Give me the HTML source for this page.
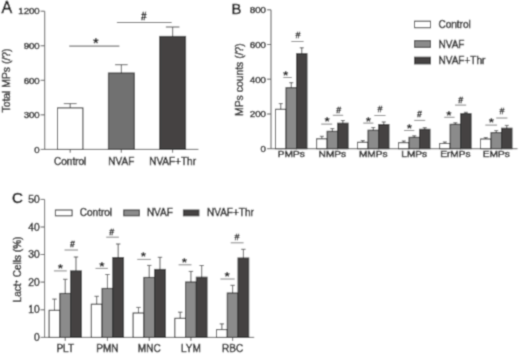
<!DOCTYPE html>
<html><head><meta charset="utf-8"><style>
html,body{margin:0;padding:0;background:#fff;width:520px;height:354px;overflow:hidden}
svg{display:block;font-family:"Liberation Sans", sans-serif}
</style></head><body>
<svg width="520" height="354" viewBox="0 0 520 354">
<defs><filter id="bl" x="0" y="0" width="520" height="354" filterUnits="userSpaceOnUse"><feConvolveMatrix order="3" kernelMatrix="0.03607 0.11778 0.03607 0.11778 0.38462 0.11778 0.03607 0.11778 0.03607" edgeMode="duplicate" preserveAlpha="true"/></filter></defs>
<g filter="url(#bl)">
<rect width="520" height="354" fill="#fff"/>
<line x1="44.7" y1="11.2" x2="44.7" y2="149.4" stroke="#555" stroke-width="1"/>
<line x1="40.7" y1="11.2" x2="44.7" y2="11.2" stroke="#555" stroke-width="1"/>
<text x="0" y="0" font-size="9.6" text-anchor="end" font-weight="normal" fill="#2b2b2b" transform="translate(39.70,14.40) scale(1.0,1)" stroke="#2b2b2b" stroke-width="0.45">1200</text>
<line x1="40.7" y1="45.75" x2="44.7" y2="45.75" stroke="#555" stroke-width="1"/>
<text x="0" y="0" font-size="9.6" text-anchor="end" font-weight="normal" fill="#2b2b2b" transform="translate(39.70,48.95) scale(1.0,1)" stroke="#2b2b2b" stroke-width="0.45">900</text>
<line x1="40.7" y1="80.3" x2="44.7" y2="80.3" stroke="#555" stroke-width="1"/>
<text x="0" y="0" font-size="9.6" text-anchor="end" font-weight="normal" fill="#2b2b2b" transform="translate(39.70,83.50) scale(1.0,1)" stroke="#2b2b2b" stroke-width="0.45">600</text>
<line x1="40.7" y1="114.85" x2="44.7" y2="114.85" stroke="#555" stroke-width="1"/>
<text x="0" y="0" font-size="9.6" text-anchor="end" font-weight="normal" fill="#2b2b2b" transform="translate(39.70,118.05) scale(1.0,1)" stroke="#2b2b2b" stroke-width="0.45">300</text>
<line x1="40.7" y1="149.4" x2="44.7" y2="149.4" stroke="#555" stroke-width="1"/>
<text x="0" y="0" font-size="9.6" text-anchor="end" font-weight="normal" fill="#2b2b2b" transform="translate(39.70,152.60) scale(1.0,1)" stroke="#2b2b2b" stroke-width="0.45">0</text>
<line x1="44.7" y1="149.4" x2="198.4" y2="149.4" stroke="#555" stroke-width="1"/>
<line x1="70.2" y1="149.4" x2="70.2" y2="152.70000000000002" stroke="#555" stroke-width="1"/>
<line x1="121.3" y1="149.4" x2="121.3" y2="152.70000000000002" stroke="#555" stroke-width="1"/>
<line x1="172.6" y1="149.4" x2="172.6" y2="152.70000000000002" stroke="#555" stroke-width="1"/>
<line x1="70.2" y1="107.9" x2="70.2" y2="103.6" stroke="#555" stroke-width="1"/>
<line x1="63.800000000000004" y1="103.6" x2="76.60000000000001" y2="103.6" stroke="#555" stroke-width="1"/>
<rect x="57.5" y="107.9" width="25.400000000000006" height="41.5" fill="#ffffff" stroke="#2a2a2a" stroke-width="1"/>
<line x1="121.35000000000001" y1="73" x2="121.35000000000001" y2="64.7" stroke="#555" stroke-width="1"/>
<line x1="115.05000000000001" y1="64.7" x2="127.65" y2="64.7" stroke="#555" stroke-width="1"/>
<rect x="108.4" y="73" width="25.900000000000006" height="76.4" fill="#717171" stroke="#2a2a2a" stroke-width="1"/>
<line x1="172.64999999999998" y1="36.4" x2="172.64999999999998" y2="27" stroke="#555" stroke-width="1"/>
<line x1="165.84999999999997" y1="27" x2="179.45" y2="27" stroke="#555" stroke-width="1"/>
<rect x="159.7" y="36.4" width="25.900000000000006" height="113.0" fill="#444343" stroke="#2a2a2a" stroke-width="1"/>
<line x1="69.2" y1="46.1" x2="119.4" y2="46.1" stroke="#555" stroke-width="1"/>
<text x="95.8" y="47.95" font-size="14.5" text-anchor="middle" font-weight="bold" fill="#1a1a1a" >*</text>
<line x1="116.9" y1="22.5" x2="171.6" y2="22.5" stroke="#555" stroke-width="1"/>
<text x="143.7" y="19.8" font-size="10" text-anchor="middle" font-weight="bold" fill="#222" stroke="#222" stroke-width="0.35">#</text>
<text x="70.2" y="164.6" font-size="10" text-anchor="middle" font-weight="normal" fill="#2b2b2b"  stroke="#2b2b2b" stroke-width="0.45">Control</text>
<text x="121.3" y="164.6" font-size="10" text-anchor="middle" font-weight="normal" fill="#2b2b2b"  stroke="#2b2b2b" stroke-width="0.45">NVAF</text>
<text x="172.6" y="164.6" font-size="10" text-anchor="middle" font-weight="normal" fill="#2b2b2b"  stroke="#2b2b2b" stroke-width="0.45">NVAF+Thr</text>
<text x="0" y="0" font-size="10.4" text-anchor="middle" font-weight="normal" fill="#2b2b2b" transform="translate(10.4,80.5) rotate(-90)" stroke="#2b2b2b" stroke-width="0.45">Total MPs (/?)</text>
<text x="1.4" y="12.8" font-size="16" text-anchor="start" font-weight="normal" fill="#111" stroke="#111" stroke-width="0.5">A</text>
<line x1="271" y1="9.8" x2="271" y2="148.7" stroke="#555" stroke-width="1"/>
<line x1="267" y1="9.8" x2="271" y2="9.8" stroke="#555" stroke-width="1"/>
<text x="0" y="0" font-size="9.5" text-anchor="end" font-weight="normal" fill="#2b2b2b" transform="translate(266.00,13.10) scale(1.03,1)" stroke="#2b2b2b" stroke-width="0.45">800</text>
<line x1="267" y1="44.5" x2="271" y2="44.5" stroke="#555" stroke-width="1"/>
<text x="0" y="0" font-size="9.5" text-anchor="end" font-weight="normal" fill="#2b2b2b" transform="translate(266.00,47.80) scale(1.03,1)" stroke="#2b2b2b" stroke-width="0.45">600</text>
<line x1="267" y1="79.2" x2="271" y2="79.2" stroke="#555" stroke-width="1"/>
<text x="0" y="0" font-size="9.5" text-anchor="end" font-weight="normal" fill="#2b2b2b" transform="translate(266.00,82.50) scale(1.03,1)" stroke="#2b2b2b" stroke-width="0.45">400</text>
<line x1="267" y1="114" x2="271" y2="114" stroke="#555" stroke-width="1"/>
<text x="0" y="0" font-size="9.5" text-anchor="end" font-weight="normal" fill="#2b2b2b" transform="translate(266.00,117.30) scale(1.03,1)" stroke="#2b2b2b" stroke-width="0.45">200</text>
<line x1="267" y1="148.7" x2="271" y2="148.7" stroke="#555" stroke-width="1"/>
<text x="0" y="0" font-size="9.5" text-anchor="end" font-weight="normal" fill="#2b2b2b" transform="translate(266.00,152.00) scale(1.03,1)" stroke="#2b2b2b" stroke-width="0.45">0</text>
<line x1="271" y1="148.7" x2="517.5" y2="148.7" stroke="#555" stroke-width="1"/>
<line x1="280.75" y1="109.3" x2="280.75" y2="103.6" stroke="#555" stroke-width="1"/>
<line x1="278.75" y1="103.6" x2="282.75" y2="103.6" stroke="#555" stroke-width="1"/>
<rect x="275.5" y="109.3" width="10.5" height="39.39999999999999" fill="#ffffff" stroke="#2a2a2a" stroke-width="1"/>
<line x1="291.25" y1="87.7" x2="291.25" y2="82.7" stroke="#555" stroke-width="1"/>
<line x1="289.25" y1="82.7" x2="293.25" y2="82.7" stroke="#555" stroke-width="1"/>
<rect x="286.0" y="87.7" width="10.5" height="60.999999999999986" fill="#8b8b8b" stroke="#2a2a2a" stroke-width="1"/>
<line x1="301.75" y1="53.7" x2="301.75" y2="47.8" stroke="#555" stroke-width="1"/>
<line x1="299.75" y1="47.8" x2="303.75" y2="47.8" stroke="#555" stroke-width="1"/>
<rect x="296.5" y="53.7" width="10.5" height="94.99999999999999" fill="#444343" stroke="#2a2a2a" stroke-width="1"/>
<line x1="321.85" y1="138.8" x2="321.85" y2="136.3" stroke="#555" stroke-width="1"/>
<line x1="319.85" y1="136.3" x2="323.85" y2="136.3" stroke="#555" stroke-width="1"/>
<rect x="316.6" y="138.8" width="10.5" height="9.899999999999977" fill="#ffffff" stroke="#2a2a2a" stroke-width="1"/>
<line x1="332.35" y1="131.3" x2="332.35" y2="128.6" stroke="#555" stroke-width="1"/>
<line x1="330.35" y1="128.6" x2="334.35" y2="128.6" stroke="#555" stroke-width="1"/>
<rect x="327.1" y="131.3" width="10.5" height="17.399999999999977" fill="#8b8b8b" stroke="#2a2a2a" stroke-width="1"/>
<line x1="342.85" y1="123.2" x2="342.85" y2="120.5" stroke="#555" stroke-width="1"/>
<line x1="340.85" y1="120.5" x2="344.85" y2="120.5" stroke="#555" stroke-width="1"/>
<rect x="337.6" y="123.2" width="10.5" height="25.499999999999986" fill="#444343" stroke="#2a2a2a" stroke-width="1"/>
<line x1="362.75" y1="142.3" x2="362.75" y2="140.6" stroke="#555" stroke-width="1"/>
<line x1="360.75" y1="140.6" x2="364.75" y2="140.6" stroke="#555" stroke-width="1"/>
<rect x="357.5" y="142.3" width="10.5" height="6.399999999999977" fill="#ffffff" stroke="#2a2a2a" stroke-width="1"/>
<line x1="373.25" y1="130.2" x2="373.25" y2="127.5" stroke="#555" stroke-width="1"/>
<line x1="371.25" y1="127.5" x2="375.25" y2="127.5" stroke="#555" stroke-width="1"/>
<rect x="368.0" y="130.2" width="10.5" height="18.5" fill="#8b8b8b" stroke="#2a2a2a" stroke-width="1"/>
<line x1="383.75" y1="124.5" x2="383.75" y2="122.0" stroke="#555" stroke-width="1"/>
<line x1="381.75" y1="122.0" x2="385.75" y2="122.0" stroke="#555" stroke-width="1"/>
<rect x="378.5" y="124.5" width="10.5" height="24.19999999999999" fill="#444343" stroke="#2a2a2a" stroke-width="1"/>
<line x1="403.75" y1="142.7" x2="403.75" y2="141.0" stroke="#555" stroke-width="1"/>
<line x1="401.75" y1="141.0" x2="405.75" y2="141.0" stroke="#555" stroke-width="1"/>
<rect x="398.5" y="142.7" width="10.5" height="6.0" fill="#ffffff" stroke="#2a2a2a" stroke-width="1"/>
<line x1="414.25" y1="137.3" x2="414.25" y2="135.8" stroke="#555" stroke-width="1"/>
<line x1="412.25" y1="135.8" x2="416.25" y2="135.8" stroke="#555" stroke-width="1"/>
<rect x="409.0" y="137.3" width="10.5" height="11.399999999999977" fill="#8b8b8b" stroke="#2a2a2a" stroke-width="1"/>
<line x1="424.75" y1="129.3" x2="424.75" y2="127.7" stroke="#555" stroke-width="1"/>
<line x1="422.75" y1="127.7" x2="426.75" y2="127.7" stroke="#555" stroke-width="1"/>
<rect x="419.5" y="129.3" width="10.5" height="19.399999999999977" fill="#444343" stroke="#2a2a2a" stroke-width="1"/>
<line x1="444.85" y1="143.5" x2="444.85" y2="142.0" stroke="#555" stroke-width="1"/>
<line x1="442.85" y1="142.0" x2="446.85" y2="142.0" stroke="#555" stroke-width="1"/>
<rect x="439.6" y="143.5" width="10.5" height="5.199999999999989" fill="#ffffff" stroke="#2a2a2a" stroke-width="1"/>
<line x1="455.35" y1="124.3" x2="455.35" y2="122.8" stroke="#555" stroke-width="1"/>
<line x1="453.35" y1="122.8" x2="457.35" y2="122.8" stroke="#555" stroke-width="1"/>
<rect x="450.1" y="124.3" width="10.5" height="24.39999999999999" fill="#8b8b8b" stroke="#2a2a2a" stroke-width="1"/>
<line x1="465.85" y1="113.7" x2="465.85" y2="112.3" stroke="#555" stroke-width="1"/>
<line x1="463.85" y1="112.3" x2="467.85" y2="112.3" stroke="#555" stroke-width="1"/>
<rect x="460.6" y="113.7" width="10.5" height="34.999999999999986" fill="#444343" stroke="#2a2a2a" stroke-width="1"/>
<line x1="485.75" y1="139.0" x2="485.75" y2="137.6" stroke="#555" stroke-width="1"/>
<line x1="483.75" y1="137.6" x2="487.75" y2="137.6" stroke="#555" stroke-width="1"/>
<rect x="480.5" y="139.0" width="10.5" height="9.699999999999989" fill="#ffffff" stroke="#2a2a2a" stroke-width="1"/>
<line x1="496.25" y1="132.6" x2="496.25" y2="130.6" stroke="#555" stroke-width="1"/>
<line x1="494.25" y1="130.6" x2="498.25" y2="130.6" stroke="#555" stroke-width="1"/>
<rect x="491.0" y="132.6" width="10.5" height="16.099999999999994" fill="#8b8b8b" stroke="#2a2a2a" stroke-width="1"/>
<line x1="506.75" y1="128.2" x2="506.75" y2="125.4" stroke="#555" stroke-width="1"/>
<line x1="504.75" y1="125.4" x2="508.75" y2="125.4" stroke="#555" stroke-width="1"/>
<rect x="501.5" y="128.2" width="10.5" height="20.5" fill="#444343" stroke="#2a2a2a" stroke-width="1"/>
<line x1="283.3" y1="77.5" x2="291.8" y2="77.5" stroke="#808080" stroke-width="1"/>
<text x="285.7" y="79.95" font-size="13.5" text-anchor="middle" font-weight="bold" fill="#1a1a1a" >*</text>
<line x1="291.3" y1="41.5" x2="303.6" y2="41.5" stroke="#808080" stroke-width="1"/>
<text x="298" y="38.0" font-size="9" text-anchor="middle" font-weight="bold" fill="#222" stroke="#222" stroke-width="0.35">#</text>
<line x1="321.2" y1="124.1" x2="332.2" y2="124.1" stroke="#808080" stroke-width="1"/>
<text x="327.2" y="126.05" font-size="13.5" text-anchor="middle" font-weight="bold" fill="#1a1a1a" >*</text>
<line x1="332.8" y1="115.3" x2="343.2" y2="115.3" stroke="#808080" stroke-width="1"/>
<text x="338.8" y="113.0" font-size="9" text-anchor="middle" font-weight="bold" fill="#222" stroke="#222" stroke-width="0.35">#</text>
<line x1="363.2" y1="123.1" x2="373.4" y2="123.1" stroke="#808080" stroke-width="1"/>
<text x="368.4" y="125.65" font-size="13.5" text-anchor="middle" font-weight="bold" fill="#1a1a1a" >*</text>
<line x1="374.3" y1="115.5" x2="385.5" y2="115.5" stroke="#808080" stroke-width="1"/>
<text x="380" y="112.4" font-size="9" text-anchor="middle" font-weight="bold" fill="#222" stroke="#222" stroke-width="0.35">#</text>
<line x1="404" y1="130.5" x2="414.3" y2="130.5" stroke="#808080" stroke-width="1"/>
<text x="409.4" y="132.75" font-size="13.5" text-anchor="middle" font-weight="bold" fill="#1a1a1a" >*</text>
<line x1="414.2" y1="120.4" x2="425.2" y2="120.4" stroke="#808080" stroke-width="1"/>
<text x="419.6" y="117.2" font-size="9" text-anchor="middle" font-weight="bold" fill="#222" stroke="#222" stroke-width="0.35">#</text>
<line x1="444.2" y1="117.3" x2="454.6" y2="117.3" stroke="#808080" stroke-width="1"/>
<text x="449" y="119.75" font-size="13.5" text-anchor="middle" font-weight="bold" fill="#1a1a1a" >*</text>
<line x1="455" y1="105.1" x2="466.2" y2="105.1" stroke="#808080" stroke-width="1"/>
<text x="460.8" y="103.0" font-size="9" text-anchor="middle" font-weight="bold" fill="#222" stroke="#222" stroke-width="0.35">#</text>
<line x1="485.3" y1="125.1" x2="497.1" y2="125.1" stroke="#808080" stroke-width="1"/>
<text x="491.3" y="127.35" font-size="13.5" text-anchor="middle" font-weight="bold" fill="#1a1a1a" >*</text>
<line x1="496.2" y1="118" x2="507.4" y2="118" stroke="#808080" stroke-width="1"/>
<text x="502" y="114.4" font-size="9" text-anchor="middle" font-weight="bold" fill="#222" stroke="#222" stroke-width="0.35">#</text>
<text x="0" y="0" font-size="9.2" text-anchor="middle" font-weight="normal" fill="#2b2b2b" transform="translate(291.25,157.4) scale(1.1,1)" stroke="#2b2b2b" stroke-width="0.45">PMPs</text>
<text x="0" y="0" font-size="9.2" text-anchor="middle" font-weight="normal" fill="#2b2b2b" transform="translate(332.35,157.4) scale(1.1,1)" stroke="#2b2b2b" stroke-width="0.45">NMPs</text>
<text x="0" y="0" font-size="9.2" text-anchor="middle" font-weight="normal" fill="#2b2b2b" transform="translate(373.25,157.4) scale(1.1,1)" stroke="#2b2b2b" stroke-width="0.45">MMPs</text>
<text x="0" y="0" font-size="9.2" text-anchor="middle" font-weight="normal" fill="#2b2b2b" transform="translate(414.25,157.4) scale(1.1,1)" stroke="#2b2b2b" stroke-width="0.45">LMPs</text>
<text x="0" y="0" font-size="9.2" text-anchor="middle" font-weight="normal" fill="#2b2b2b" transform="translate(455.35,157.4) scale(1.1,1)" stroke="#2b2b2b" stroke-width="0.45">ErMPs</text>
<text x="0" y="0" font-size="9.2" text-anchor="middle" font-weight="normal" fill="#2b2b2b" transform="translate(496.25,157.4) scale(1.1,1)" stroke="#2b2b2b" stroke-width="0.45">EMPs</text>
<text x="0" y="0" font-size="10.4" text-anchor="middle" font-weight="normal" fill="#2b2b2b" transform="translate(242.6,79.6) rotate(-90)" stroke="#2b2b2b" stroke-width="0.45">MPs counts (/?)</text>
<text x="231.5" y="13.6" font-size="14.8" text-anchor="start" font-weight="normal" fill="#111" stroke="#111" stroke-width="0.45">B</text>
<rect x="414.5" y="21.2" width="16" height="6.5" fill="#ffffff" stroke="#2a2a2a" stroke-width="1"/>
<text x="438.5" y="27.95" font-size="10" text-anchor="start" font-weight="normal" fill="#2b2b2b"  stroke="#2b2b2b" stroke-width="0.45">Control</text>
<rect x="414.5" y="40.6" width="16" height="6.799999999999997" fill="#8b8b8b" stroke="#2a2a2a" stroke-width="1"/>
<text x="438.5" y="47.5" font-size="10" text-anchor="start" font-weight="normal" fill="#2b2b2b"  stroke="#2b2b2b" stroke-width="0.45">NVAF</text>
<rect x="414.5" y="57.2" width="16" height="6.699999999999996" fill="#444343" stroke="#2a2a2a" stroke-width="1"/>
<text x="438.5" y="64.05" font-size="10" text-anchor="start" font-weight="normal" fill="#2b2b2b"  stroke="#2b2b2b" stroke-width="0.45">NVAF+Thr</text>
<line x1="44.6" y1="199.4" x2="44.6" y2="337.4" stroke="#555" stroke-width="1"/>
<line x1="40.6" y1="199.4" x2="44.6" y2="199.4" stroke="#555" stroke-width="1"/>
<text x="0" y="0" font-size="10.2" text-anchor="end" font-weight="normal" fill="#2b2b2b" transform="translate(39.60,203.00) scale(1.0,1)" stroke="#2b2b2b" stroke-width="0.45">50</text>
<line x1="40.6" y1="227" x2="44.6" y2="227" stroke="#555" stroke-width="1"/>
<text x="0" y="0" font-size="10.2" text-anchor="end" font-weight="normal" fill="#2b2b2b" transform="translate(39.60,230.60) scale(1.0,1)" stroke="#2b2b2b" stroke-width="0.45">40</text>
<line x1="40.6" y1="254.5" x2="44.6" y2="254.5" stroke="#555" stroke-width="1"/>
<text x="0" y="0" font-size="10.2" text-anchor="end" font-weight="normal" fill="#2b2b2b" transform="translate(39.60,258.10) scale(1.0,1)" stroke="#2b2b2b" stroke-width="0.45">30</text>
<line x1="40.6" y1="282.1" x2="44.6" y2="282.1" stroke="#555" stroke-width="1"/>
<text x="0" y="0" font-size="10.2" text-anchor="end" font-weight="normal" fill="#2b2b2b" transform="translate(39.60,285.70) scale(1.0,1)" stroke="#2b2b2b" stroke-width="0.45">20</text>
<line x1="40.6" y1="309.8" x2="44.6" y2="309.8" stroke="#555" stroke-width="1"/>
<text x="0" y="0" font-size="10.2" text-anchor="end" font-weight="normal" fill="#2b2b2b" transform="translate(39.60,313.40) scale(1.0,1)" stroke="#2b2b2b" stroke-width="0.45">10</text>
<line x1="40.6" y1="337.4" x2="44.6" y2="337.4" stroke="#555" stroke-width="1"/>
<text x="0" y="0" font-size="10.2" text-anchor="end" font-weight="normal" fill="#2b2b2b" transform="translate(39.60,341.00) scale(1.0,1)" stroke="#2b2b2b" stroke-width="0.45">0</text>
<line x1="44.6" y1="337.4" x2="254.2" y2="337.4" stroke="#555" stroke-width="1"/>
<line x1="54.475" y1="310.3" x2="54.475" y2="299.1" stroke="#555" stroke-width="1"/>
<line x1="52.275" y1="299.1" x2="56.675000000000004" y2="299.1" stroke="#555" stroke-width="1"/>
<rect x="49.1" y="310.3" width="10.75" height="27.099999999999966" fill="#ffffff" stroke="#2a2a2a" stroke-width="1"/>
<line x1="65.225" y1="293.4" x2="65.225" y2="279.3" stroke="#555" stroke-width="1"/>
<line x1="63.02499999999999" y1="279.3" x2="67.425" y2="279.3" stroke="#555" stroke-width="1"/>
<rect x="59.85" y="293.4" width="10.749999999999993" height="44.0" fill="#8b8b8b" stroke="#2a2a2a" stroke-width="1"/>
<line x1="75.975" y1="270.9" x2="75.975" y2="257.0" stroke="#555" stroke-width="1"/>
<line x1="73.77499999999999" y1="257.0" x2="78.175" y2="257.0" stroke="#555" stroke-width="1"/>
<rect x="70.6" y="270.9" width="10.75" height="66.5" fill="#444343" stroke="#2a2a2a" stroke-width="1"/>
<line x1="65.225" y1="337.4" x2="65.225" y2="340.9" stroke="#555" stroke-width="1"/>
<line x1="96.675" y1="304.2" x2="96.675" y2="296.3" stroke="#555" stroke-width="1"/>
<line x1="94.475" y1="296.3" x2="98.875" y2="296.3" stroke="#555" stroke-width="1"/>
<rect x="91.3" y="304.2" width="10.75" height="33.19999999999999" fill="#ffffff" stroke="#2a2a2a" stroke-width="1"/>
<line x1="107.425" y1="288.4" x2="107.425" y2="274.5" stroke="#555" stroke-width="1"/>
<line x1="105.225" y1="274.5" x2="109.625" y2="274.5" stroke="#555" stroke-width="1"/>
<rect x="102.05" y="288.4" width="10.75" height="49.0" fill="#8b8b8b" stroke="#2a2a2a" stroke-width="1"/>
<line x1="118.175" y1="257.5" x2="118.175" y2="244.0" stroke="#555" stroke-width="1"/>
<line x1="115.975" y1="244.0" x2="120.375" y2="244.0" stroke="#555" stroke-width="1"/>
<rect x="112.8" y="257.5" width="10.75" height="79.89999999999998" fill="#444343" stroke="#2a2a2a" stroke-width="1"/>
<line x1="107.425" y1="337.4" x2="107.425" y2="340.9" stroke="#555" stroke-width="1"/>
<line x1="138.475" y1="313.0" x2="138.475" y2="307.4" stroke="#555" stroke-width="1"/>
<line x1="136.275" y1="307.4" x2="140.67499999999998" y2="307.4" stroke="#555" stroke-width="1"/>
<rect x="133.1" y="313.0" width="10.75" height="24.399999999999977" fill="#ffffff" stroke="#2a2a2a" stroke-width="1"/>
<line x1="149.225" y1="277.4" x2="149.225" y2="265.4" stroke="#555" stroke-width="1"/>
<line x1="147.025" y1="265.4" x2="151.42499999999998" y2="265.4" stroke="#555" stroke-width="1"/>
<rect x="143.85" y="277.4" width="10.75" height="60.0" fill="#8b8b8b" stroke="#2a2a2a" stroke-width="1"/>
<line x1="159.975" y1="269.4" x2="159.975" y2="257.3" stroke="#555" stroke-width="1"/>
<line x1="157.775" y1="257.3" x2="162.17499999999998" y2="257.3" stroke="#555" stroke-width="1"/>
<rect x="154.6" y="269.4" width="10.75" height="68.0" fill="#444343" stroke="#2a2a2a" stroke-width="1"/>
<line x1="149.225" y1="337.4" x2="149.225" y2="340.9" stroke="#555" stroke-width="1"/>
<line x1="180.175" y1="318.3" x2="180.175" y2="312.2" stroke="#555" stroke-width="1"/>
<line x1="177.97500000000002" y1="312.2" x2="182.375" y2="312.2" stroke="#555" stroke-width="1"/>
<rect x="174.8" y="318.3" width="10.75" height="19.099999999999966" fill="#ffffff" stroke="#2a2a2a" stroke-width="1"/>
<line x1="190.925" y1="282.0" x2="190.925" y2="271.4" stroke="#555" stroke-width="1"/>
<line x1="188.72500000000002" y1="271.4" x2="193.125" y2="271.4" stroke="#555" stroke-width="1"/>
<rect x="185.55" y="282.0" width="10.75" height="55.39999999999998" fill="#8b8b8b" stroke="#2a2a2a" stroke-width="1"/>
<line x1="201.675" y1="277.2" x2="201.675" y2="265.5" stroke="#555" stroke-width="1"/>
<line x1="199.47500000000002" y1="265.5" x2="203.875" y2="265.5" stroke="#555" stroke-width="1"/>
<rect x="196.3" y="277.2" width="10.75" height="60.19999999999999" fill="#444343" stroke="#2a2a2a" stroke-width="1"/>
<line x1="190.925" y1="337.4" x2="190.925" y2="340.9" stroke="#555" stroke-width="1"/>
<line x1="221.875" y1="329.6" x2="221.875" y2="323.9" stroke="#555" stroke-width="1"/>
<line x1="219.675" y1="323.9" x2="224.075" y2="323.9" stroke="#555" stroke-width="1"/>
<rect x="216.5" y="329.6" width="10.75" height="7.7999999999999545" fill="#ffffff" stroke="#2a2a2a" stroke-width="1"/>
<line x1="232.625" y1="293.0" x2="232.625" y2="285.3" stroke="#555" stroke-width="1"/>
<line x1="230.425" y1="285.3" x2="234.825" y2="285.3" stroke="#555" stroke-width="1"/>
<rect x="227.25" y="293.0" width="10.75" height="44.39999999999998" fill="#8b8b8b" stroke="#2a2a2a" stroke-width="1"/>
<line x1="243.375" y1="258.0" x2="243.375" y2="249.3" stroke="#555" stroke-width="1"/>
<line x1="241.175" y1="249.3" x2="245.575" y2="249.3" stroke="#555" stroke-width="1"/>
<rect x="238.0" y="258.0" width="10.75" height="79.39999999999998" fill="#444343" stroke="#2a2a2a" stroke-width="1"/>
<line x1="232.625" y1="337.4" x2="232.625" y2="340.9" stroke="#555" stroke-width="1"/>
<line x1="53.9" y1="270.9" x2="66.8" y2="270.9" stroke="#808080" stroke-width="1"/>
<text x="60.4" y="272.95" font-size="13.5" text-anchor="middle" font-weight="bold" fill="#1a1a1a" >*</text>
<line x1="64.5" y1="250" x2="78" y2="250" stroke="#808080" stroke-width="1"/>
<text x="72.5" y="246.6" font-size="9" text-anchor="middle" font-weight="bold" fill="#222" stroke="#222" stroke-width="0.35">#</text>
<line x1="95.5" y1="268.4" x2="107.9" y2="268.4" stroke="#808080" stroke-width="1"/>
<text x="102" y="270.55" font-size="13.5" text-anchor="middle" font-weight="bold" fill="#1a1a1a" >*</text>
<line x1="106.2" y1="237.2" x2="118.9" y2="237.2" stroke="#808080" stroke-width="1"/>
<text x="111.8" y="234.8" font-size="9" text-anchor="middle" font-weight="bold" fill="#222" stroke="#222" stroke-width="0.35">#</text>
<line x1="137.2" y1="259.4" x2="150.9" y2="259.4" stroke="#808080" stroke-width="1"/>
<text x="143.5" y="261.35" font-size="13.5" text-anchor="middle" font-weight="bold" fill="#1a1a1a" >*</text>
<line x1="178.6" y1="264.8" x2="191.5" y2="264.8" stroke="#808080" stroke-width="1"/>
<text x="184.3" y="266.65" font-size="13.5" text-anchor="middle" font-weight="bold" fill="#1a1a1a" >*</text>
<line x1="220.4" y1="279" x2="234.7" y2="279" stroke="#808080" stroke-width="1"/>
<text x="227.2" y="280.75" font-size="13.5" text-anchor="middle" font-weight="bold" fill="#1a1a1a" >*</text>
<line x1="230.7" y1="242.8" x2="243.6" y2="242.8" stroke="#808080" stroke-width="1"/>
<text x="237.1" y="240.20000000000002" font-size="9" text-anchor="middle" font-weight="bold" fill="#222" stroke="#222" stroke-width="0.35">#</text>
<text x="65.225" y="351.5" font-size="10" text-anchor="middle" font-weight="normal" fill="#2b2b2b"  stroke="#2b2b2b" stroke-width="0.45">PLT</text>
<text x="107.425" y="351.5" font-size="10" text-anchor="middle" font-weight="normal" fill="#2b2b2b"  stroke="#2b2b2b" stroke-width="0.45">PMN</text>
<text x="149.225" y="351.5" font-size="10" text-anchor="middle" font-weight="normal" fill="#2b2b2b"  stroke="#2b2b2b" stroke-width="0.45">MNC</text>
<text x="190.925" y="351.5" font-size="10" text-anchor="middle" font-weight="normal" fill="#2b2b2b"  stroke="#2b2b2b" stroke-width="0.45">LYM</text>
<text x="232.625" y="351.5" font-size="10" text-anchor="middle" font-weight="normal" fill="#2b2b2b"  stroke="#2b2b2b" stroke-width="0.45">RBC</text>
<text x="0" y="0" font-size="10" text-anchor="middle" font-weight="normal" fill="#2b2b2b" transform="translate(20.6,269.5) rotate(-90)" stroke="#2b2b2b" stroke-width="0.45">Lact<tspan dy="-3" font-size="6">+</tspan><tspan dy="3"> Cells (%)</tspan></text>
<text x="12.1" y="202.9" font-size="15" text-anchor="start" font-weight="normal" fill="#111" stroke="#111" stroke-width="0.6">C</text>
<rect x="55.4" y="210" width="16.699999999999996" height="5.8" fill="#ffffff" stroke="#2a2a2a" stroke-width="1"/>
<text x="79.8" y="216.3" font-size="10" text-anchor="start" font-weight="normal" fill="#2b2b2b"  stroke="#2b2b2b" stroke-width="0.45">Control</text>
<rect x="123.7" y="210" width="15.700000000000003" height="5.8" fill="#8b8b8b" stroke="#2a2a2a" stroke-width="1"/>
<text x="146.9" y="216.3" font-size="10" text-anchor="start" font-weight="normal" fill="#2b2b2b"  stroke="#2b2b2b" stroke-width="0.45">NVAF</text>
<rect x="183.4" y="210" width="15.5" height="5.8" fill="#444343" stroke="#2a2a2a" stroke-width="1"/>
<text x="207" y="216.3" font-size="10" text-anchor="start" font-weight="normal" fill="#2b2b2b"  stroke="#2b2b2b" stroke-width="0.45">NVAF+Thr</text>
</g>
</svg></body></html>
